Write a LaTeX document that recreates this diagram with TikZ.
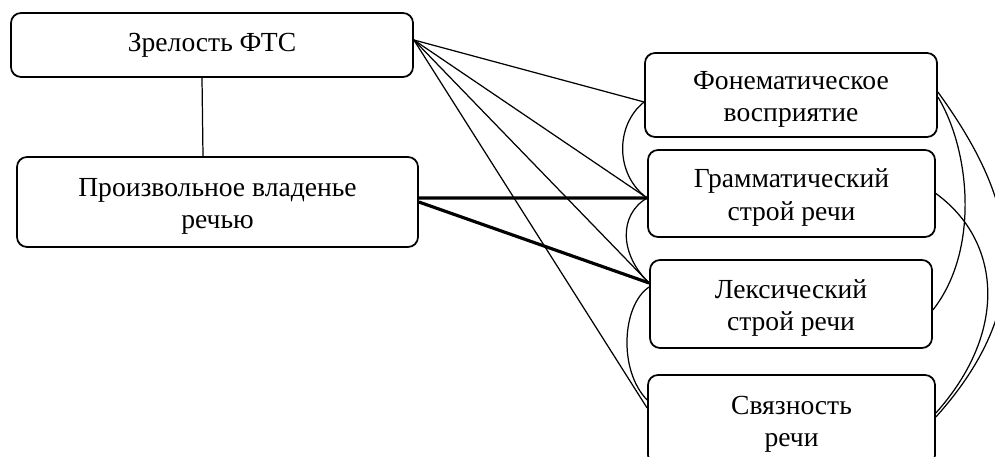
\documentclass[tikz,border=0pt]{standalone}
\usepackage{fontspec}
\setmainfont{Liberation Serif}
\tikzset{
  blok/.style={draw, line width=1pt, rounded corners=2mm, align=center, inner sep=0pt,
    font=\fontsize{15.7}{18.6}\selectfont},
  nizhe/.style={text height=34pt},
  svyaz/.style={line width=0.7pt},
  zhirn/.style={line width=1.8pt}
}
\begin{document}
\begin{tikzpicture}[x=0.2mm,y=-0.2mm]
\useasboundingbox (0,0) rectangle (995,457);
\clip (0,0) rectangle (995,457);
% left blocks
\node[blok, minimum width=80.4mm, minimum height=12.8mm] (zrel) at (212,45) {Зрелость ФТС};
\node[blok, nizhe, minimum width=80.2mm, minimum height=18mm] (proizv) at (217.5,202) {Произвольное владенье\\речью};
% right blocks
\node[blok, nizhe, minimum width=58.4mm, minimum height=16.8mm] (fonem) at (791,95) {Фонематическое\\восприятие};
\node[blok, nizhe, minimum width=57.4mm, minimum height=17.4mm] (gramm) at (791.5,193.5) {Грамматический\\строй речи};
\node[blok, nizhe, minimum width=56.4mm, minimum height=17.6mm] (leks) at (791,304) {Лексический\\строй речи};
\node[blok, nizhe, minimum width=57.4mm, minimum height=18mm] (svyazn) at (791.5,420) {Связность\\речи};

\draw[svyaz] ([xshift=-2mm]zrel.south) -- ([xshift=-2.9mm]proizv.north);
\draw[svyaz] ([yshift=1mm]zrel.east) -- ([yshift=-1.4mm]fonem.west);
\draw[svyaz] ([yshift=1mm]zrel.east) -- ([yshift=-0.9mm]gramm.west);
\draw[svyaz] ([yshift=1mm]zrel.east) -- ([yshift=4.2mm]leks.west);
\draw[svyaz] ([yshift=1mm]zrel.east) -- ([yshift=2.4mm]svyazn.west);
\draw[zhirn] ([yshift=0.8mm]proizv.east) -- ([yshift=-0.9mm]gramm.west);
\draw[zhirn] (proizv.east) -- ([yshift=4.2mm]leks.west);
% curves on the left
\draw[svyaz] ([yshift=-1.4mm]fonem.west) .. controls (615,125) and (615,175) .. ([yshift=-0.9mm]gramm.west);
\draw[svyaz] ([yshift=-0.9mm]gramm.west) .. controls (618,215) and (620,255) .. ([yshift=4.2mm]leks.west);
\draw[svyaz] ([yshift=3.4mm]leks.west) .. controls (622,305) and (618,370) .. ([yshift=4mm]svyazn.west);
% curves on the right
\draw[svyaz] ([yshift=0.6mm]fonem.east) .. controls (1005,185) and (1050,290) .. ([yshift=0.6mm]svyazn.east);
\draw[svyaz] ([yshift=-0.4mm]fonem.east) .. controls (970,150) and (980,250) .. ([yshift=-1.2mm]leks.east);
\draw[svyaz] (gramm.east) .. controls (1000,240) and (1010,330) .. ([yshift=1.4mm]svyazn.east);
\end{tikzpicture}
\end{document}
